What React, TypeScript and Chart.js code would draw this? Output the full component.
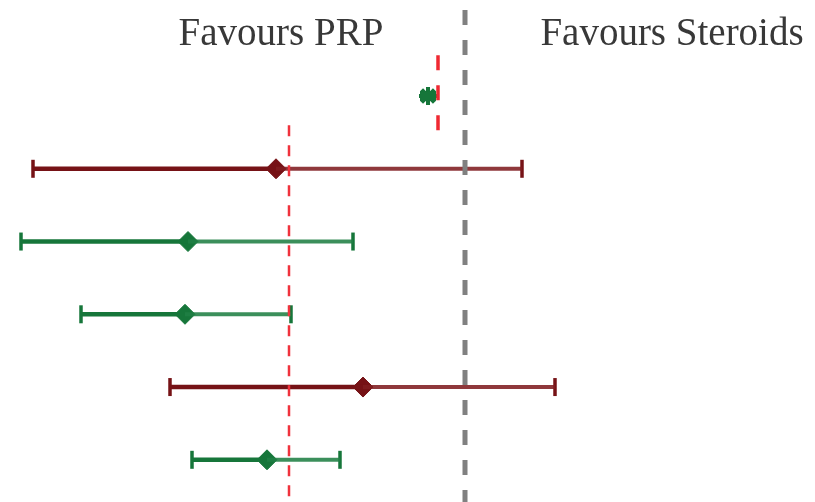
import React, { useEffect, useRef } from "react";
import { Chart, registerables } from "chart.js";

Chart.register(...registerables);

// Forest-plot rows (top to bottom), effect size and 95% CI
const rows = [0, 1, 2, 3, 4, 5];
const estimates = [-0.37, -1.89, -2.77, -2.80, -1.02, -1.98];
const lowers = [-0.45, -4.32, -4.44, -3.84, -2.95, -2.73];
const uppers = [-0.29, 0.57, -1.12, -1.74, 0.90, -1.25];
const rowColors = ["green", "red", "green", "green", "red", "green"];

// reference lines
const noEffect = 0;
const pooledMain = -1.76;
const pooledMainFrom = 0.4;
const pooledSmall = -0.27;
const pooledSmallRange = [-0.56, 0.54];

const leftLabel = "Favours PRP";
const rightLabel = "Favours Steroids";

const X_MIN = -4.65;
const X_MAX = 3.5;
const Y_MIN = -1.32;
const Y_MAX = 5.58;

const COLORS: Record<string, { solid: string; light: string }> = {
  red: { solid: "rgb(118,18,22)", light: "rgba(128,28,32,0.88)" },
  green: { solid: "rgb(22,118,58)", light: "rgba(32,128,68,0.88)" },
};

const labelPlugin = {
  id: "favourLabels",
  afterDatasetsDraw(chart: any) {
    const ctx = chart.ctx;
    const xs = chart.scales.x;
    ctx.save();
    ctx.font = '39px "Liberation Serif"';
    ctx.fillStyle = "#383838";
    ctx.textAlign = "center";
    ctx.textBaseline = "alphabetic";
    ctx.fillText(leftLabel, xs.getPixelForValue(-1.84), 45);
    ctx.fillText(rightLabel, xs.getPixelForValue(2.07), 45);
    ctx.restore();
  },
};

export default function App() {
  const ref = useRef<HTMLCanvasElement>(null);
  useEffect(() => {
    if (!ref.current) return;
    const datasets: any[] = [];
    datasets.push({
      type: "line",
      data: [
        { x: noEffect, y: Y_MIN },
        { x: noEffect, y: Y_MAX },
      ],
      borderColor: "rgb(128,128,128)",
      borderWidth: 5,
      borderDash: [15, 15],
      borderDashOffset: 20,
      pointRadius: 0,
    });
    datasets.push({
      type: "line",
      data: [
        { x: pooledMain, y: pooledMainFrom },
        { x: pooledMain, y: Y_MAX },
      ],
      borderColor: "rgb(240,50,60)",
      borderWidth: 2.5,
      borderDash: [11, 9],
      pointRadius: 0,
    });
    datasets.push({
      type: "line",
      data: [
        { x: pooledSmall, y: pooledSmallRange[0] },
        { x: pooledSmall, y: pooledSmallRange[1] },
      ],
      borderColor: "rgb(240,40,50)",
      borderWidth: 3.5,
      borderDash: [15, 15],
      pointRadius: 0,
    });
    rows.forEach((r, i) => {
      const c = COLORS[rowColors[i]];
      const small = i === 0;
      datasets.push({
        type: "line",
        data: [
          { x: lowers[i], y: r },
          { x: estimates[i], y: r },
        ],
        borderColor: c.solid,
        borderWidth: small ? 10 : 4.5,
        pointRadius: 0,
      });
      datasets.push({
        type: "line",
        data: [
          { x: estimates[i], y: r },
          { x: uppers[i], y: r },
        ],
        borderColor: small ? c.solid : c.light,
        borderWidth: small ? 10 : 4,
        pointRadius: 0,
      });
      if (!small) {
        datasets.push({
          type: "scatter",
          data: [
            { x: lowers[i], y: r },
            { x: uppers[i], y: r },
          ],
          pointStyle: "line",
          rotation: 90,
          pointRadius: 9,
          borderColor: c.solid,
          pointBorderWidth: 3.5,
          borderWidth: 3.5,
        });
      }
      datasets.push({
        type: "scatter",
        data: [{ x: estimates[i], y: r }],
        pointStyle: small ? "star" : "rectRot",
        pointRadius: small ? 9 : 10,
        backgroundColor: c.solid,
        borderColor: c.solid,
        borderWidth: small ? 4 : 1,
      });
    });
    const chart = new Chart(ref.current, {
      type: "scatter",
      data: { datasets },
      options: {
        animation: false,
        responsive: false,
        devicePixelRatio: 1,
        layout: { padding: 0, autoPadding: false },
        plugins: { legend: { display: false }, tooltip: { enabled: false }, title: { display: false } },
        scales: {
          x: { type: "linear", min: X_MIN, max: X_MAX, display: false },
          y: { type: "linear", min: Y_MIN, max: Y_MAX, reverse: true, display: false },
        },
        elements: { line: { tension: 0 } },
      },
      plugins: [labelPlugin],
    } as any);
    return () => chart.destroy();
  }, []);
  return (
    <div style={{ position: "fixed", left: 0, top: 0, width: 815, height: 502, background: "#fff" }}>
      <canvas ref={ref} width={815} height={502} style={{ width: 815, height: 502 }} />
    </div>
  );
}
